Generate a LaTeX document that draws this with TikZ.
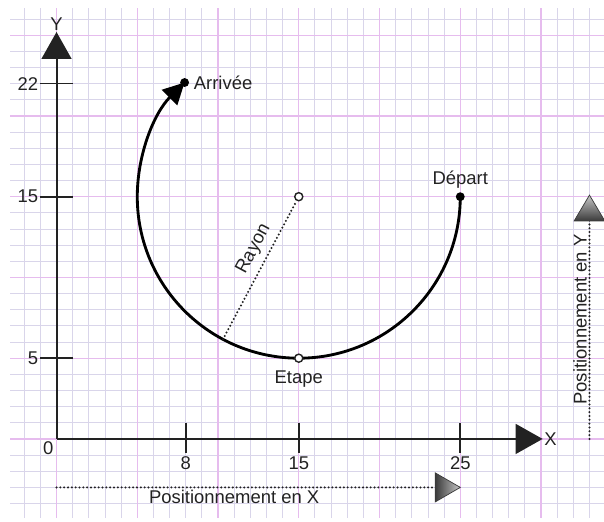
\documentclass[tikz,border=0pt]{standalone}
\usepackage{fontspec}
\setmainfont{Liberation Sans}
\usepackage{xcolor}
\usetikzlibrary{arrows.meta,positioning}
\definecolor{GridMinor}{HTML}{D9D5EA}
\definecolor{GridMajor}{HTML}{E6BCEE}
\definecolor{InkDark}{HTML}{222222}
\definecolor{HeadDark}{HTML}{3A3A3A}
\definecolor{HeadLight}{HTML}{C8C8C8}

\begin{document}
\begin{tikzpicture}[
  x=4mm, y=4mm,
  font=\fontsize{13}{15}\selectfont,
  minorgrid/.style={draw=GridMinor, line width=0.6pt},
  majorgrid/.style={draw=GridMajor, line width=0.8pt},
  axis/.style={draw=InkDark, line width=1.4pt, -{Triangle[length=19pt, width=21pt]}},
  tickmark/.style={draw=InkDark, line width=1.2pt},
  lbl/.style={text=InkDark, inner sep=1pt},
  dotline/.style={draw=InkDark, line width=1.6pt, line cap=round, dash pattern=on 0pt off 2.7pt},
  traj/.style={draw=black, line width=2pt, -{Triangle[length=15pt, width=15pt]}},
  dot/.style={circle, fill=black, inner sep=0pt, minimum size=2.2mm},
  ring/.style={circle, draw=InkDark, fill=white, line width=1pt, inner sep=0pt, minimum size=2mm},
  headshade/.style={draw=HeadDark, line width=0.5pt}
]
\useasboundingbox (-3.5,-5.14) rectangle (33.9,27.18);

% quadrillage
\draw[minorgrid, step=1] (-2.88,-4.89) grid (33.9,26.69);
\draw[majorgrid, step=5] (-2.88,-4.89) grid (33.9,26.69);

% axes
\coordinate (origin) at (0,0);
\coordinate (xend) at (30.1,0);
\coordinate (yend) at (0,25.2);
\draw[axis] (origin) -- (xend);
\draw[axis] (origin) -- (yend);
\node[lbl, anchor=west] (xlbl) at (xend) {X};
\node[lbl, anchor=south] (ylbl) at (yend) {Y};
\node[lbl, anchor=north east, inner sep=2pt] (zero) at (origin) {0};

\draw[tickmark] (1,22) -- (-1,22) node[lbl, anchor=east] (ylab22) {22};
\draw[tickmark] (1,15) -- (-1,15) node[lbl, anchor=east] (ylab15) {15};
\draw[tickmark] (1,5) -- (-1,5) node[lbl, anchor=east] (ylab5) {5};
\draw[tickmark] (8,1) -- (8,-0.85) node[lbl, anchor=north, inner sep=2pt] (xlab8) {8};
\draw[tickmark] (15,1) -- (15,-0.85) node[lbl, anchor=north, inner sep=2pt] (xlab15) {15};
\draw[tickmark] (25,1) -- (25,-0.85) node[lbl, anchor=north, inner sep=2pt] (xlab25) {25};

% positionnement
\coordinate (posxstart) at (0,-3);
\coordinate (posxtip) at (25,-3);
\draw[dotline] (posxstart) -- (posxtip) node[lbl, pos=0.44, below] (posxlbl) {Positionnement en X};
\shadedraw[headshade, left color=HeadDark, right color=HeadLight] (posxtip) -- ++(-1.55,0.9) -- ++(0,-1.8) -- cycle;

\coordinate (posystart) at (33,0);
\coordinate (posytip) at (33,15.1);
\draw[dotline] (posystart) -- (posytip) node[lbl, pos=0.49, sloped, above] (posylbl) {Positionnement en Y};
\shadedraw[headshade, bottom color=HeadDark, top color=HeadLight] (posytip) -- ++(-0.95,-1.6) -- ++(1.9,0) -- cycle;

% trajectoire
\node[dot] (depart) at (25,15) {};
\node[dot] (arrivee) at (7.93,22.07) {};
\node[ring] (centre) at (15,15) {};
\draw[traj] (depart.center) arc[start angle=0, end angle=-225, radius=10];
\node[ring] (etape) at (15,5) {};

\coordinate (rayonpt) at ([shift={(15,15)}]242:10);
\draw[dotline] (rayonpt) -- (centre) node[lbl, pos=0.6, sloped, above=3pt] (rayonlbl) {Rayon};

\node[lbl, above=1.5pt of depart] (departlbl) {Départ};
\node[lbl, right=2pt of arrivee] (arriveelbl) {Arrivée};
\node[lbl, below=4pt of etape] (etapelbl) {Etape};
\end{tikzpicture}
\end{document}
